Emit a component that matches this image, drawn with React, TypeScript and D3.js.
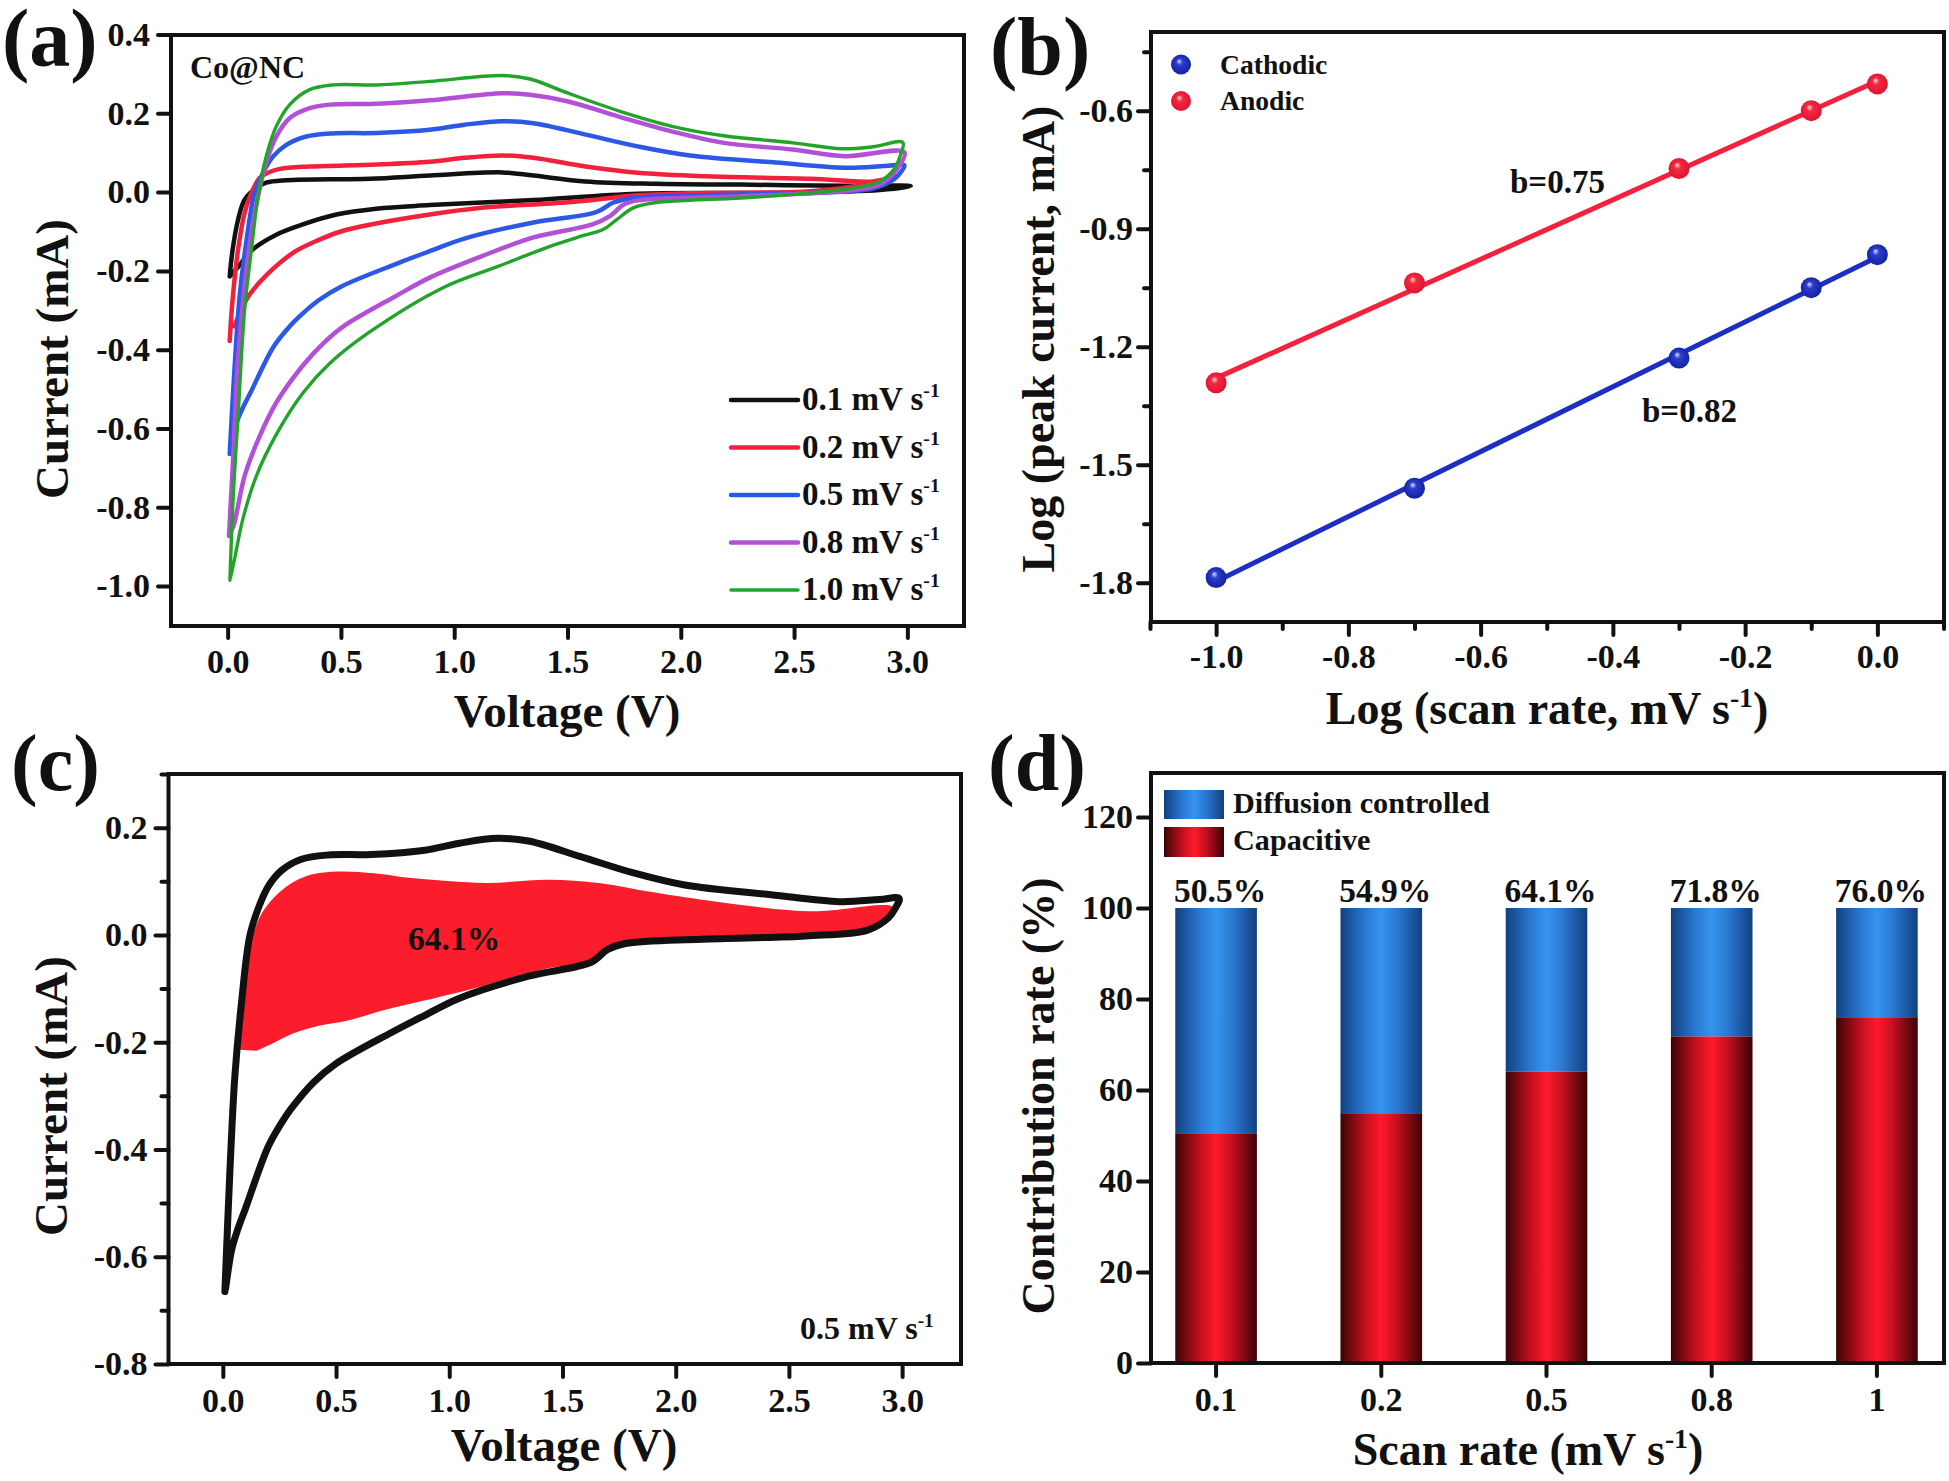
import * as d3 from 'd3';
import React, { useEffect, useRef } from 'react';

const FONT = '"Liberation Serif", serif';
const INK = '#111';

// (a) CV loops: voltage and current go round the loop from the negative tip
const v01 = [0.009, 0.022, 0.046, 0.075, 0.127, 0.17, 0.259, 0.627, 0.892, 1.213, 1.35, 1.58, 1.885, 2.267, 2.725, 3.015, 2.878, 2.42, 1.81, 1.35, 0.892, 0.656, 0.48, 0.332, 0.215, 0.11, 0.046, 0.012];
const i01 = [-0.214, -0.146, -0.07, -0.019, 0.011, 0.024, 0.03, 0.034, 0.042, 0.05, 0.042, 0.027, 0.021, 0.019, 0.016, 0.015, 0.005, -0.002, -0.004, -0.02, -0.033, -0.042, -0.057, -0.082, -0.108, -0.146, -0.19, -0.212];

const v02 = [0.009, 0.016, 0.026, 0.046, 0.075, 0.105, 0.141, 0.177, 0.23, 0.362, 0.656, 0.892, 1.045, 1.213, 1.35, 1.58, 1.81, 2.115, 2.573, 2.848, 2.95, 2.848, 2.573, 2.115, 1.81, 1.503, 1.12, 0.892, 0.627, 0.5, 0.4, 0.3, 0.2, 0.097, 0.06, 0.03];
const i02 = [-0.378, -0.315, -0.247, -0.146, -0.053, -0.002, 0.036, 0.049, 0.059, 0.065, 0.07, 0.077, 0.087, 0.093, 0.087, 0.065, 0.049, 0.04, 0.034, 0.027, 0.04, 0.023, 0.002, -0.002, -0.008, -0.026, -0.04, -0.057, -0.083, -0.1, -0.122, -0.15, -0.195, -0.26, -0.3, -0.34];

const v05 = [0.009, 0.031, 0.053, 0.082, 0.119, 0.156, 0.2, 0.259, 0.347, 0.465, 0.656, 0.892, 1.045, 1.213, 1.35, 1.58, 1.81, 2.04, 2.42, 2.725, 2.9, 2.987, 2.97, 2.94, 2.848, 2.573, 2.115, 1.778, 1.7, 1.626, 1.35, 1.045, 0.892, 0.745, 0.5, 0.4, 0.3, 0.26, 0.2, 0.1, 0.065, 0.04, 0.012];
const i05 = [-0.665, -0.442, -0.264, -0.128, -0.002, 0.049, 0.09, 0.12, 0.141, 0.149, 0.15, 0.158, 0.171, 0.18, 0.175, 0.146, 0.116, 0.093, 0.075, 0.062, 0.066, 0.068, 0.05, 0.032, 0.009, -0.002, -0.008, -0.016, -0.027, -0.051, -0.077, -0.118, -0.15, -0.182, -0.24, -0.275, -0.325, -0.35, -0.395, -0.51, -0.55, -0.585, -0.66];

const v08 = [0.006, 0.024, 0.046, 0.098, 0.134, 0.17, 0.215, 0.274, 0.362, 0.45, 0.656, 0.892, 1.213, 1.335, 1.503, 1.73, 1.96, 2.19, 2.495, 2.725, 2.987, 2.95, 2.88, 2.77, 2.6, 2.2, 1.81, 1.747, 1.687, 1.61, 1.35, 1.12, 0.892, 0.745, 0.508, 0.42, 0.332, 0.215, 0.141, 0.075, 0.026, 0.01];
const i08 = [-0.873, -0.678, -0.425, -0.128, -0.011, 0.075, 0.141, 0.188, 0.213, 0.222, 0.224, 0.233, 0.251, 0.247, 0.23, 0.191, 0.154, 0.125, 0.108, 0.091, 0.101, 0.055, 0.02, 0.006, -0.002, -0.012, -0.021, -0.032, -0.061, -0.082, -0.115, -0.163, -0.217, -0.263, -0.342, -0.385, -0.44, -0.534, -0.62, -0.72, -0.847, -0.865];

const v10 = [0.01, 0.024, 0.046, 0.075, 0.105, 0.134, 0.17, 0.215, 0.274, 0.362, 0.465, 0.656, 0.892, 1.213, 1.335, 1.503, 1.732, 1.961, 2.19, 2.496, 2.71, 2.848, 2.98, 2.97, 2.94, 2.878, 2.77, 2.573, 2.267, 1.885, 1.79, 1.717, 1.657, 1.56, 1.426, 1.196, 0.953, 0.627, 0.45, 0.332, 0.215, 0.127, 0.067, 0.031, 0.012];
const i10 = [-0.985, -0.78, -0.568, -0.298, -0.146, -0.011, 0.09, 0.167, 0.222, 0.26, 0.272, 0.272, 0.281, 0.296, 0.287, 0.251, 0.205, 0.167, 0.143, 0.125, 0.11, 0.115, 0.126, 0.095, 0.057, 0.027, 0.011, -0.002, -0.015, -0.027, -0.04, -0.07, -0.095, -0.112, -0.137, -0.188, -0.242, -0.355, -0.435, -0.51, -0.615, -0.72, -0.83, -0.93, -0.98];

const rates = ['0.1', '0.2', '0.5', '0.8', '1.0'];
const rateColors = ['#111111', '#f3203c', '#2b58e6', '#b350d8', '#22a32a'];
const rateWidths = [4.5, 4.5, 4.5, 4.5, 3.4];
const loops = [d3.zip(v01, i01), d3.zip(v02, i02), d3.zip(v05, i05), d3.zip(v08, i08), d3.zip(v10, i10)];

// (b) peak currents
const logRate = [-1, -0.7, -0.3, -0.1, 0];
const cathodic = [-1.787, -1.56, -1.229, -1.05, -0.966];
const anodic = [-1.292, -1.038, -0.747, -0.6, -0.532];

// (c) capacitive share of the 0.5 mV/s loop
const capV = [0.074, 0.094, 0.157, 0.254, 0.364, 0.502, 0.667, 0.833, 1.163, 1.44, 1.66, 1.908, 2.18, 2.6, 2.956, 2.97, 2.9, 2.75, 2.42, 2.1, 1.8, 1.7, 1.63, 1.467, 1.33, 1.108, 0.943, 0.722, 0.557, 0.419, 0.309, 0.226, 0.149];
const capI = [-0.214, -0.095, 0.028, 0.081, 0.109, 0.118, 0.115, 0.106, 0.097, 0.103, 0.097, 0.079, 0.062, 0.044, 0.053, 0.04, 0.015, 0.005, -0.005, -0.009, -0.018, -0.03, -0.05, -0.06, -0.073, -0.1, -0.117, -0.139, -0.159, -0.17, -0.184, -0.201, -0.216];

// (d) contribution
const scanRates = ['0.1', '0.2', '0.5', '0.8', '1'];
const capacitive = [50.5, 54.9, 64.1, 71.8, 76.0];

type AxisProps = {
  orient: 'left' | 'bottom';
  scale: any;
  at: [number, number];
  values: any[];
  size: number;
  padding?: number;
  format?: (d: any) => string;
};

function Axis({ orient, scale, at, values, size, padding = 0, format = () => '' }: AxisProps) {
  const ref = useRef<SVGGElement>(null);
  useEffect(() => {
    const axis = (orient === 'left' ? d3.axisLeft(scale) : d3.axisBottom(scale))
      .tickValues(values)
      .tickSize(size)
      .tickPadding(padding)
      .tickFormat(format as any);
    const g = d3.select(ref.current!);
    g.call(axis as any);
    g.select('.domain').remove();
    g.selectAll('line').attr('stroke', INK).attr('stroke-width', 4).attr('stroke-linecap', 'round');
    g.selectAll('text')
      .attr('fill', INK)
      .attr('font-family', FONT)
      .attr('font-weight', 'bold')
      .attr('font-size', 34);
  }, []);
  return <g ref={ref} transform={`translate(${at[0]},${at[1]})`} />;
}

function Label({ x, y, size = 33, anchor = 'start', rotate = false, sup, children }: any) {
  return (
    <text
      x={rotate ? 0 : x}
      y={rotate ? 0 : y}
      transform={rotate ? `translate(${x},${y}) rotate(-90)` : undefined}
      fontFamily={FONT}
      fontWeight="bold"
      fontSize={size}
      fill={INK}
      textAnchor={anchor}
    >
      {children}
      {sup && (
        <tspan fontSize={size * 0.6} dy={-size * 0.38}>
          {sup}
        </tspan>
      )}
      {sup === '-1' && anchor === 'middle' && <tspan dy={size * 0.38}>)</tspan>}
    </text>
  );
}

const fixed1 = (d: number) => d.toFixed(1);

function PanelA() {
  const x = d3.scaleLinear().domain([-0.25, 3.25]).range([171, 964]);
  const y = d3.scaleLinear().domain([-1.1, 0.4]).range([625.5, 34.5]);
  const line = d3.line<any>().x(d => x(d[0])).y(d => y(d[1])).curve(d3.curveCatmullRom.alpha(0.5));
  return (
    <g>
      <Label x={2} y={66} size={82}>(a)</Label>
      {loops.map((loop, i) => (
        <path key={i} d={line(loop)!} fill="none" stroke={rateColors[i]} strokeWidth={rateWidths[i]} strokeLinecap="round" />
      ))}
      <rect x={171} y={35} width={793} height={591} fill="none" stroke={INK} strokeWidth={4} />
      <Axis orient="left" scale={y} at={[171, 0]} values={d3.range(-1, 0.41, 0.2)} size={13} padding={8} format={fixed1} />
      <Axis orient="bottom" scale={x} at={[0, 626]} values={d3.range(0, 3.01, 0.5)} size={12} padding={11} format={fixed1} />
      <Label x={190} y={78} size={32}>Co@NC</Label>
      {rates.map((r, i) => {
        const ly = 400 + i * 47.5;
        return (
          <g key={r}>
            <line x1={731} x2={798} y1={ly} y2={ly} stroke={rateColors[i]} strokeWidth={rateWidths[i]} strokeLinecap="round" />
            <Label x={802} y={ly + 10} sup="-1">{`${r} mV s`}</Label>
          </g>
        );
      })}
      <Label x={567} y={727} size={47} anchor="middle">Voltage (V)</Label>
      <Label x={68} y={359} size={47} anchor="middle" rotate>Current (mA)</Label>
    </g>
  );
}

function fitLine(xs: number[], ys: number[]) {
  const mx = d3.mean(xs)!;
  const my = d3.mean(ys)!;
  const slope = d3.sum(xs, (v, i) => (v - mx) * (ys[i] - my)) / d3.sum(xs, v => (v - mx) ** 2);
  return (v: number) => my + slope * (v - mx);
}

function PanelB() {
  const x = d3.scaleLinear().domain([-1.1, 0.1]).range([1150, 1943.5]);
  const y = d3.scaleLinear().domain([-1.9, -0.4]).range([622, 32]);
  const series = [
    { name: 'Cathodic', values: cathodic, color: '#1c2fc4', grad: 'ballBlue' },
    { name: 'Anodic', values: anodic, color: '#f5203c', grad: 'ballRed' },
  ];
  const line = d3.line<number>().x(d => x(d));
  return (
    <g>
      <Label x={990} y={74} size={82}>(b)</Label>
      <rect x={1151} y={32} width={793} height={590} fill="none" stroke={INK} strokeWidth={4} />
      <Axis orient="left" scale={y} at={[1151, 0]} values={d3.range(-1.8, -0.59, 0.3)} size={13} padding={5} format={fixed1} />
      <Axis orient="left" scale={y} at={[1151, 0]} values={d3.range(-1.65, -0.44, 0.3)} size={7} />
      <Axis orient="bottom" scale={x} at={[0, 622]} values={d3.range(-1, 0.01, 0.2)} size={13} padding={9} format={fixed1} />
      <Axis orient="bottom" scale={x} at={[0, 622]} values={d3.range(-1.1, 0.11, 0.2)} size={7} />
      {series.map(s => {
        const fit = fitLine(logRate, s.values);
        return (
          <g key={s.name}>
            <path d={line.y(d => y(fit(d)))([-1, 0])!} stroke={s.color} strokeWidth={5} fill="none" />
            {logRate.map((v, i) => (
              <circle key={v} cx={x(v)} cy={y(s.values[i])} r={10.5} fill={`url(#${s.grad})`} />
            ))}
          </g>
        );
      })}
      {series.map((s, i) => (
        <g key={s.name}>
          <circle cx={1181} cy={64.5 + i * 36.5} r={10} fill={`url(#${s.grad})`} />
          <Label x={1220} y={74 + i * 35.5} size={27.6}>{s.name}</Label>
        </g>
      ))}
      <Label x={1510} y={192.5}>b=0.75</Label>
      <Label x={1642} y={422}>b=0.82</Label>
      <Label x={1547} y={724} size={46} anchor="middle" sup="-1">Log (scan rate, mV s</Label>
      <Label x={1054} y={339} size={46} anchor="middle" rotate>Log (peak current, mA)</Label>
    </g>
  );
}

function PanelC() {
  const x = d3.scaleLinear().domain([-0.24, 3.26]).range([168.5, 961]);
  const y = d3.scaleLinear().domain([-0.8, 0.3]).range([1364, 774]);
  const line = d3.line<any>().x(d => x(d[0])).y(d => y(d[1])).curve(d3.curveCatmullRom.alpha(0.5));
  return (
    <g>
      <Label x={11} y={790} size={80}>(c)</Label>
      <path d={line(d3.zip(capV, capI))! + 'Z'} fill="#fb1c2c" />
      <path d={line(d3.zip(v05, i05))!} fill="none" stroke={INK} strokeWidth={7} strokeLinecap="round" />
      <rect x={168.5} y={774} width={792.5} height={590} fill="none" stroke={INK} strokeWidth={4} />
      <Axis orient="left" scale={y} at={[168.5, 0]} values={d3.range(-0.8, 0.21, 0.2)} size={13} padding={8} format={fixed1} />
      <Axis orient="left" scale={y} at={[168.5, 0]} values={d3.range(-0.7, 0.31, 0.2)} size={7} />
      <Axis orient="bottom" scale={x} at={[0, 1364]} values={d3.range(0, 3.01, 0.5)} size={13} padding={11} format={fixed1} />
      <Label x={408} y={950} size={33.5}>64.1%</Label>
      <Label x={800} y={1339} size={32} sup="-1">0.5 mV s</Label>
      <Label x={564} y={1461} size={47} anchor="middle">Voltage (V)</Label>
      <Label x={67} y={1096} size={47} anchor="middle" rotate>Current (mA)</Label>
    </g>
  );
}

function PanelD() {
  const x = d3.scaleBand<string>().domain(scanRates).range([1150, 1943]).paddingInner(0.506).paddingOuter(0.153);
  const y = d3.scaleLinear().domain([0, 130]).range([1363, 771.5]);
  const rows = scanRates.map((r, i) => ({ rate: r, capacitive: capacitive[i], diffusion: +(100 - capacitive[i]).toFixed(1) }));
  const stack = d3.stack<any>().keys(['capacitive', 'diffusion'])(rows);
  const grads = ['barRed', 'barBlue'];
  return (
    <g>
      <Label x={988} y={790} size={80}>(d)</Label>
      {stack.map((layer, k) =>
        layer.map(d => (
          <rect
            key={d.data.rate}
            x={x(d.data.rate)}
            y={y(d[1])}
            width={x.bandwidth()}
            height={y(d[0]) - y(d[1])}
            fill={`url(#${grads[k]})`}
          />
        ))
      )}
      <rect x={1151} y={773} width={793} height={590} fill="none" stroke={INK} strokeWidth={4} />
      <Axis orient="left" scale={y} at={[1151, 0]} values={d3.range(0, 121, 20)} size={13} padding={5} format={d => String(d)} />
      <Axis orient="bottom" scale={x} at={[0, 1363]} values={scanRates} size={13} padding={11} format={d => d} />
      {rows.map(r => (
        <Label key={r.rate} x={x(r.rate)! + x.bandwidth() / 2 + 4} y={902} size={33.5} anchor="middle">{`${r.capacitive.toFixed(1)}%`}</Label>
      ))}
      <rect x={1164} y={790} width={60} height={29} fill="url(#barBlue)" />
      <rect x={1164} y={827} width={60} height={30} fill="url(#barRed)" />
      <Label x={1233} y={813} size={30.2}>Diffusion controlled</Label>
      <Label x={1233} y={850} size={30.2}>Capacitive</Label>
      <Label x={1528} y={1465} size={46} anchor="middle" sup="-1">Scan rate (mV s</Label>
      <Label x={1054} y={1096} size={46} anchor="middle" rotate>Contribution rate (%)</Label>
    </g>
  );
}

export default function App() {
  return (
    <svg width={1949} height={1481} style={{ position: 'absolute', left: 0, top: 0, background: '#fff' }}>
      <defs>
        <linearGradient id="barRed">
          <stop offset="0" stopColor="#3a0404" />
          <stop offset="0.3" stopColor="#c20f1e" />
          <stop offset="0.5" stopColor="#ff1a2c" />
          <stop offset="0.7" stopColor="#c20f1e" />
          <stop offset="1" stopColor="#3a0404" />
        </linearGradient>
        <linearGradient id="barBlue">
          <stop offset="0" stopColor="#12407f" />
          <stop offset="0.3" stopColor="#2a78d0" />
          <stop offset="0.5" stopColor="#3694f0" />
          <stop offset="0.7" stopColor="#2a78d0" />
          <stop offset="1" stopColor="#12407f" />
        </linearGradient>
        <radialGradient id="ballBlue" cx="0.5" cy="0.5" r="0.55" fx="0.4" fy="0.32">
          <stop offset="0" stopColor="#d8def5" />
          <stop offset="0.3" stopColor="#2a3cd0" />
          <stop offset="1" stopColor="#10209a" />
        </radialGradient>
        <radialGradient id="ballRed" cx="0.5" cy="0.5" r="0.55" fx="0.4" fy="0.32">
          <stop offset="0" stopColor="#fbdde0" />
          <stop offset="0.3" stopColor="#f5283f" />
          <stop offset="1" stopColor="#dc1430" />
        </radialGradient>
      </defs>
      <PanelA />
      <PanelB />
      <PanelC />
      <PanelD />
    </svg>
  );
}
